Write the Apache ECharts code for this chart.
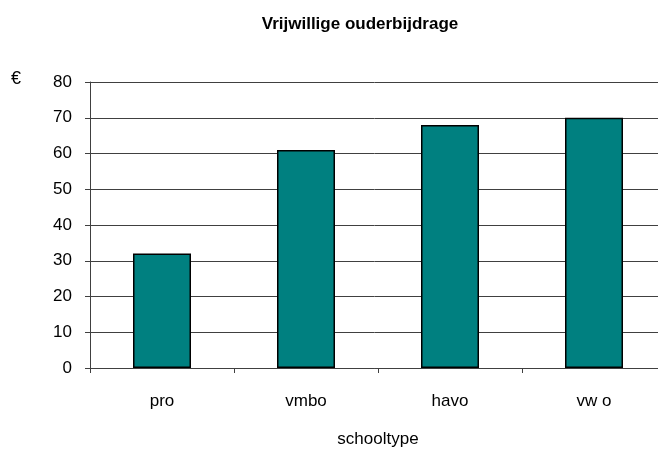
<!DOCTYPE html>
<html>
<head>
<meta charset="utf-8">
<script src="https://cdn.jsdelivr.net/npm/echarts@6/dist/echarts.min.js"></script>
<style>
  html, body {margin: 0; padding: 0; background: #fff;}
  #chart {width: 658px; height: 453px;}
</style>
</head>
<body>
<div id="chart"></div>
<script>
(function(){
  'use strict';

  /*
    data
  */
  var categories = ['pro', 'vmbo', 'havo', 'vw o'],
      values     = [32, 61, 68, 70],
      yTicks     = [0, 10, 20, 30, 40, 50, 60, 70, 80];

  var font = 'Arial, "Liberation Sans", sans-serif';

  var option = {
    animation: false,
    backgroundColor: '#fff',
    title: {
      text: 'Vrijwillige ouderbijdrage',
      left: 355,
      top: 11,
      textAlign: 'center',
      textStyle: {fontFamily: font, fontSize: 17, fontWeight: 'bold', color: '#000'}
    },
    graphic: [{
      type: 'text',
      left: 11,
      top: 70,
      style: {text: '€', fontFamily: font, fontSize: 18, fill: '#000'}
    }],
    grid: {left: 90, right: -8, top: 82, bottom: 85, outerBoundsMode: 'none', containLabel: false},
    xAxis: {
      type: 'category',
      data: categories,
      boundaryGap: true,
      name: 'schooltype',
      nameLocation: 'middle',
      nameGap: 63,
      nameTextStyle: {fontFamily: font, fontSize: 17, color: '#000'},
      axisLine: {lineStyle: {color: '#404040', width: 1}},
      axisTick: {show: true, length: 5, lineStyle: {color: '#404040'}},
      axisLabel: {fontFamily: font, fontSize: 17, color: '#000', margin: 25}
    },
    yAxis: {
      type: 'value',
      min: yTicks[0],
      max: yTicks[yTicks.length - 1],
      interval: 10,
      axisLine: {show: true, lineStyle: {color: '#404040', width: 1}},
      axisTick: {show: true, length: 5, lineStyle: {color: '#404040'}},
      axisLabel: {fontFamily: font, fontSize: 17, color: '#000', margin: 18},
      splitLine: {show: true, lineStyle: {color: '#404040', width: 1}}
    },
    series: [{
      type: 'bar',
      data: values,
      barWidth: 58,
      itemStyle: {color: '#008080', borderColor: '#000', borderWidth: 1.5}
    }]
  };

  echarts.init(document.getElementById('chart')).setOption(option);
})();
</script>
</body>
</html>
